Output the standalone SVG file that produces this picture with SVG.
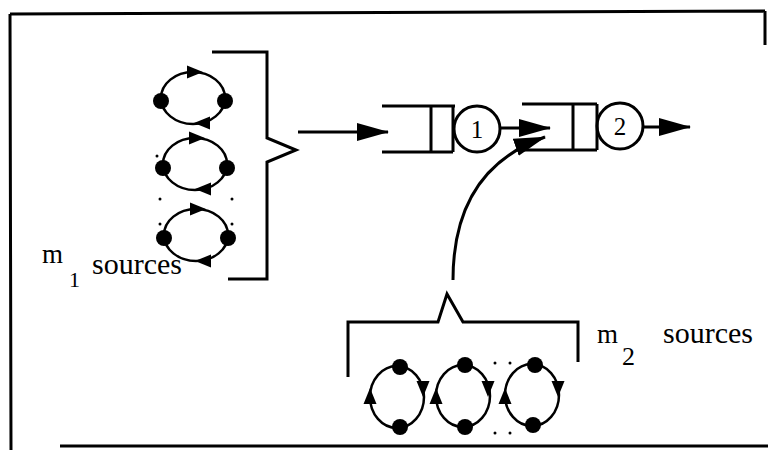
<svg xmlns="http://www.w3.org/2000/svg" width="768" height="454" viewBox="0 0 768 454">
<style>
.ln{fill:none;stroke:#000;stroke-width:3}
.el{fill:none;stroke:#000;stroke-width:2.5}
.dot{fill:#000}
.sd{fill:#000}
text{font-family:'Liberation Serif','DejaVu Serif','Times New Roman',serif;fill:#000}
</style>
<defs>
<marker id="ah" markerUnits="userSpaceOnUse" markerWidth="32" markerHeight="20" viewBox="0 0 32 20" refX="31" refY="10" orient="auto">
<path d="M0,1 L32,10 L0,19 Z" fill="#000"/>
</marker>
<path id="tri" d="M-8,-6.5 L8,0 L-8,6.5 Z" fill="#000"/>
</defs>
<rect width="768" height="454" fill="#fff"/>
<g id="frame">
<path class="ln" d="M10,14 L765,11 M10,14 L11,450 M60,446 L768,446 M765,11 L765,45"/>
</g>
<g id="sources1">
<ellipse class="el" cx="193" cy="98" rx="32" ry="26"/>
<circle class="dot" cx="161" cy="101" r="8"/>
<circle class="dot" cx="225" cy="101" r="8"/>
<use href="#tri" transform="translate(195,72)"/>
<use href="#tri" transform="translate(202,123) rotate(180)"/>
<ellipse class="el" cx="195" cy="164" rx="32" ry="26"/>
<circle class="dot" cx="163" cy="168" r="8"/>
<circle class="dot" cx="227" cy="168" r="8"/>
<use href="#tri" transform="translate(197,138)"/>
<use href="#tri" transform="translate(203,189) rotate(180)"/>
<ellipse class="el" cx="196" cy="235" rx="32" ry="26"/>
<circle class="dot" cx="164" cy="238" r="8"/>
<circle class="dot" cx="228" cy="238" r="8"/>
<use href="#tri" transform="translate(198,209)"/>
<use href="#tri" transform="translate(203,261) rotate(180)"/>
<circle class="sd" cx="157" cy="156" r="1.5"/>
<circle class="sd" cx="160" cy="199" r="1.5"/>
<circle class="sd" cx="232" cy="199" r="1.5"/>
<circle class="sd" cx="160" cy="224" r="1.5"/>
<circle class="sd" cx="232" cy="224" r="1.5"/>
<path class="ln" d="M212,52 L267,52 L267,138 L296,150 L267,162 L267,279 L228,279"/>
<text x="42" y="263" font-size="27">m</text>
<text x="69" y="287" font-size="22">1</text>
<text x="92" y="274" font-size="30">sources</text>
</g>
<g id="queue1">
<path class="ln" d="M382,106 L455,106 M382,152 L453,152 M431,106 L431,152 M453,106 L453,152"/>
<circle class="ln" cx="477" cy="129" r="23"/>
<text x="477" y="138" font-size="25" text-anchor="middle">1</text>
</g>
<g id="queue2">
<path class="ln" d="M522,104 L597,104 M522,150 L597,150 M573,104 L573,150 M597,104 L597,150"/>
<circle class="ln" cx="620" cy="126" r="23"/>
<text x="620" y="135" font-size="25" text-anchor="middle">2</text>
</g>
<g id="sources2">
<path class="ln" d="M348,377 L348,322 L438,322 L447,294 L463,322 L578,322 L578,362"/>
<ellipse class="el" cx="397" cy="397" rx="27" ry="31"/>
<circle class="dot" cx="400" cy="367" r="8"/>
<circle class="dot" cx="400" cy="427" r="8"/>
<use href="#tri" transform="translate(370,396) rotate(-90)"/>
<use href="#tri" transform="translate(423,389) rotate(90)"/>
<ellipse class="el" cx="463" cy="396" rx="27" ry="31"/>
<circle class="dot" cx="465" cy="365" r="8"/>
<circle class="dot" cx="465" cy="427" r="8"/>
<use href="#tri" transform="translate(436,396) rotate(-90)"/>
<use href="#tri" transform="translate(488,389) rotate(90)"/>
<ellipse class="el" cx="532" cy="395" rx="27" ry="31"/>
<circle class="dot" cx="535" cy="365" r="8"/>
<circle class="dot" cx="533" cy="425" r="8"/>
<use href="#tri" transform="translate(505,396) rotate(-90)"/>
<use href="#tri" transform="translate(558,389) rotate(90)"/>
<circle class="sd" cx="495" cy="363" r="1.5"/>
<circle class="sd" cx="510" cy="363" r="1.5"/>
<circle class="sd" cx="495" cy="433" r="1.5"/>
<circle class="sd" cx="510" cy="433" r="1.5"/>
<text x="597" y="343" font-size="27">m</text>
<text x="622" y="365" font-size="26">2</text>
<text x="663" y="343" font-size="30">sources</text>
</g>
<g id="connectors">
<path class="ln" d="M298,132 L388,132" marker-end="url(#ah)"/>
<path class="ln" d="M500,128 L550,128" marker-end="url(#ah)"/>
<path class="ln" d="M643,127 L690,127" marker-end="url(#ah)"/>
<path class="ln" d="M453,280 C453,210 480,160 545,137" marker-end="url(#ah)"/>
</g>
</svg>
